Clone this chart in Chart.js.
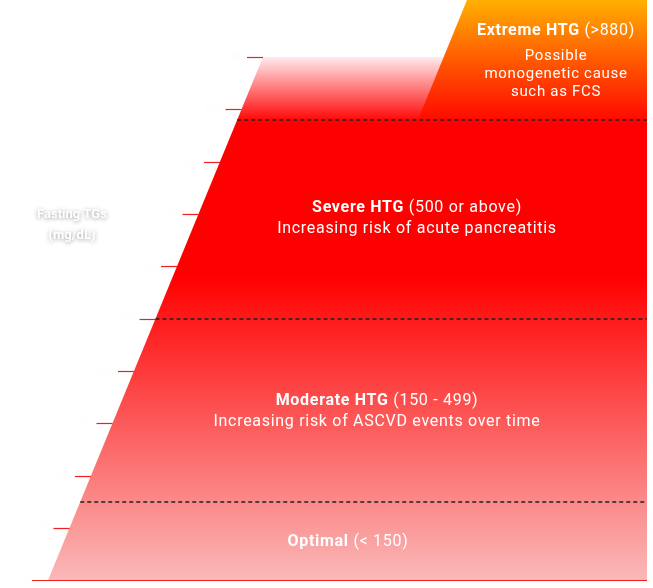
<!DOCTYPE html>
<html>
<head>
<meta charset="utf-8">
<script src="https://cdn.jsdelivr.net/npm/chart.js@4"></script>
<style>
  html, body { margin: 0; padding: 0; background: #fff; }
  #wrap { width: 653px; height: 588px; }
</style>
</head>
<body>
<div id="wrap"><canvas id="c"></canvas></div>
<script>
// --- data ---
const tickValues = [0, 100, 200, 300, 400, 500, 600, 700, 800, 900, 1000];
const thresholds = [150, 500, 880];
const zoneTitles = ['Optimal', 'Moderate HTG', 'Severe HTG', 'Extreme HTG'];
const zoneRanges = [' (< 150)', ' (150 - 499)', ' (500 or above)', ' (>880)'];
const zoneNotes = [[], ['Increasing risk of ASCVD events over time'], ['Increasing risk of acute pancreatitis'], ['Possible', 'monogenetic cause', 'such as FCS']];
const zoneTextValue = [73, 342, 711, 1050];
const zoneTextX = [348, 377, 417, 556];
const yMax = 1109, yMin = -15;
// slanted edge (x in px units at value 0 and 1000)
const edgeX = [48, 263];
const extremeEdgeX = [418, 467];
const rightX = 647;

const edgeAt = v => edgeX[0] + (edgeX[1] - edgeX[0]) * v / 1000;
const FONT = 'Roboto, "DejaVu Sans", sans-serif';

const ctx = document.getElementById('c').getContext('2d');

function mainGrad(chart) {
  const { ctx, chartArea, scales } = chart;
  if (!chartArea) return 'red';
  const y = scales.y;
  const g = ctx.createLinearGradient(0, y.getPixelForValue(1000), 0, y.getPixelForValue(0));
  g.addColorStop(0, 'rgb(255,235,238)');
  g.addColorStop(0.125, 'rgb(255,0,0)');
  g.addColorStop(0.42, 'rgb(255,0,0)');
  g.addColorStop(0.7, 'rgb(252,90,90)');
  g.addColorStop(1, 'rgb(250,185,185)');
  return g;
}
function extremeGrad(chart) {
  const { ctx, chartArea, scales } = chart;
  if (!chartArea) return 'orange';
  const y = scales.y;
  const g = ctx.createLinearGradient(0, y.getPixelForValue(yMax), 0, y.getPixelForValue(880));
  g.addColorStop(0, 'rgb(255,176,0)');
  g.addColorStop(0.5, 'rgb(255,90,0)');
  g.addColorStop(1, 'rgb(255,10,0)');
  return g;
}

const overlay = {
  id: 'overlay',
  afterDatasetsDraw(chart) {
    const c = chart.ctx, y = chart.scales.y, x = chart.scales.x;
    c.save();
    // tick marks + (white) labels
    c.strokeStyle = '#f02020'; c.lineWidth = 1.2;
    tickValues.forEach(v => {
      const py = Math.round(y.getPixelForValue(v)) + 0.5;
      const ex = x.getPixelForValue(edgeAt(v));
      c.beginPath();
      c.moveTo(ex - 16, py);
      c.lineTo(v === 0 ? x.getPixelForValue(rightX) : ex, py);
      c.stroke();
      c.fillStyle = '#fdfdfd'; c.font = '11px ' + FONT;
      c.textAlign = 'right'; c.textBaseline = 'middle';
      c.fillText(String(v), ex - 19, py);
    });
    // dashed threshold lines
    c.strokeStyle = '#222'; c.lineWidth = 1.5; c.setLineDash([4, 3]);
    thresholds.forEach(v => {
      const py = Math.round(y.getPixelForValue(v));
      c.beginPath();
      c.moveTo(x.getPixelForValue(edgeAt(v)), py);
      c.lineTo(x.getPixelForValue(rightX), py);
      c.stroke();
    });
    c.setLineDash([]);
    // axis title
    c.fillStyle = '#fff'; c.font = 'bold 13px ' + FONT; c.textAlign = 'center';
    c.shadowColor = 'rgba(0,0,0,0.4)'; c.shadowBlur = 4; c.shadowOffsetY = 1;
    c.fillText('Fasting TGs', 72, 215);
    c.fillText('(mg/dL)', 72, 236);
    c.shadowColor = 'transparent';
    // zone labels
    c.textBaseline = 'middle';
    c.letterSpacing = '0.7px';
    zoneTitles.forEach((t, i) => {
      const cx = x.getPixelForValue(zoneTextX[i]);
      let py = y.getPixelForValue(zoneTextValue[i]);
      c.font = 'bold 16px ' + FONT;
      const w1 = c.measureText(t).width;
      c.font = '16px ' + FONT;
      const w2 = c.measureText(zoneRanges[i]).width;
      const sx = cx - (w1 + w2) / 2;
      c.textAlign = 'left';
      c.font = 'bold 16px ' + FONT; c.fillText(t, sx, py);
      c.font = '16px ' + FONT; c.fillText(zoneRanges[i], sx + w1, py);
      c.textAlign = 'center';
      const step = i === 3 ? 18 : 21;
      if (i === 3) { py += 7; c.font = '15px ' + FONT; }
      zoneNotes[i].forEach((n, k) => c.fillText(n, cx, py + step * (k + 1)));
    });
    c.restore();
  }
};

new Chart(ctx, {
  type: 'line',
  data: {
    datasets: [
      {
        order: 2,
        data: [{ x: edgeX[0], y: 0 }, { x: edgeX[1], y: 1000 }, { x: rightX, y: 1000 }, { x: rightX, y: 0 }],
        fill: 'origin', borderWidth: 0, pointRadius: 0, tension: 0,
        backgroundColor: c => mainGrad(c.chart)
      },
      {
        order: 1,
        data: [{ x: extremeEdgeX[0], y: 880 }, { x: extremeEdgeX[1], y: yMax }, { x: rightX, y: yMax }, { x: rightX, y: 880 }],
        fill: { value: 880 }, borderWidth: 0, pointRadius: 0, tension: 0,
        backgroundColor: c => extremeGrad(c.chart)
      }
    ]
  },
  options: {
    responsive: true, maintainAspectRatio: false, animation: false,
    layout: { padding: 0 },
    plugins: { legend: { display: false }, tooltip: { enabled: false } },
    scales: {
      x: { type: 'linear', min: 0, max: 653, display: false },
      y: { type: 'linear', min: yMin, max: yMax, display: false }
    }
  },
  plugins: [overlay]
});
</script>
</body>
</html>
